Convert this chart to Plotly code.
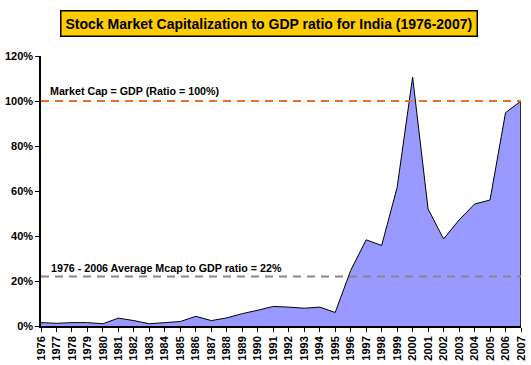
import plotly.graph_objects as go

years = list(range(1976, 2008))
ratio_pct = [1.5, 1.2, 1.5, 1.5, 1.0, 3.5, 2.4, 1.0, 1.5, 2.0,
             4.3, 2.4, 3.6, 5.5, 7.0, 8.7, 8.4, 7.9, 8.4, 6.0,
             24.7, 38.3, 35.8, 61.6, 110.6, 52.0, 38.7, 47.1, 54.2, 56.0,
             94.8, 100.0]
gdp_line = 100
avg_line = 22
title_text = "Stock Market Capitalization to GDP ratio for India (1976-2007)"
gdp_label = "Market Cap = GDP (Ratio = 100%)"
avg_label = "1976 - 2006 Average Mcap to GDP ratio = 22%"

FONT = "Liberation Sans, Arial, sans-serif"

fig = go.Figure()
fig.add_trace(go.Scatter(
    x=years, y=ratio_pct, mode="lines", fill="tozeroy",
    fillcolor="#9999FF", line=dict(color="black", width=1),
    hoverinfo="x+y", showlegend=False))
# closing edge of the area at the last year
fig.add_trace(go.Scatter(
    x=[years[-1], years[-1]], y=[0, ratio_pct[-1]], mode="lines",
    line=dict(color="black", width=1.5), showlegend=False, hoverinfo="skip"))
# reference lines
fig.add_trace(go.Scatter(
    x=[years[0], years[-1]], y=[gdp_line, gdp_line], mode="lines",
    line=dict(color="#F07020", width=2, dash="8px,6px"),
    showlegend=False, hoverinfo="skip"))
fig.add_trace(go.Scatter(
    x=[years[0], years[-1]], y=[avg_line, avg_line], mode="lines",
    line=dict(color="#888888", width=2, dash="8px,6px"),
    showlegend=False, hoverinfo="skip"))

fig.update_layout(
    width=531, height=365,
    margin=dict(l=41, r=10, t=56, b=39, autoexpand=False),
    paper_bgcolor="white", plot_bgcolor="white",
    font=dict(family=FONT, color="black"),
    showlegend=False,
    xaxis=dict(range=[years[0], years[-1]], tickmode="linear", tick0=years[0], dtick=1,
               tickangle=-90, showgrid=False, zeroline=False, automargin=False,
               showline=True, linecolor="black", linewidth=1.5,
               ticks="outside", ticklen=4, tickcolor="black",
               tickfont=dict(family=FONT, size=11, color="black", weight="bold")),
    yaxis=dict(range=[0, 120], tickmode="linear", tick0=0, dtick=20, ticksuffix="%",
               showgrid=False, zeroline=False, automargin=False,
               showline=True, linecolor="black", linewidth=1.5,
               ticks="outside", ticklen=4, tickcolor="black",
               tickfont=dict(family=FONT, size=11, color="black", weight="bold")),
    annotations=[
        dict(text="<b>" + title_text + "</b>", xref="paper", yref="paper",
             x=(269 - 41) / 480, y=(326 - 23.5) / 270, xanchor="center", yanchor="middle",
             showarrow=False, font=dict(family=FONT, size=14, color="black"),
             bgcolor="#FFCC00", bordercolor="black", borderwidth=1.5, borderpad=4),
        dict(text="<b>" + gdp_label + "</b>", xref="paper", yref="y",
             x=7 / 480, y=104.3, xanchor="left", yanchor="middle",
             showarrow=False, font=dict(family=FONT, size=10.7, color="black")),
        dict(text="<b>" + avg_label + "</b>", xref="paper", yref="y",
             x=8 / 480, y=26, xanchor="left", yanchor="middle",
             showarrow=False, font=dict(family=FONT, size=10.7, color="black")),
    ],
)

fig.write_html("out.html", config={"displayModeBar": False},
               post_script="document.body.style.margin='0';document.body.style.padding='0';")
